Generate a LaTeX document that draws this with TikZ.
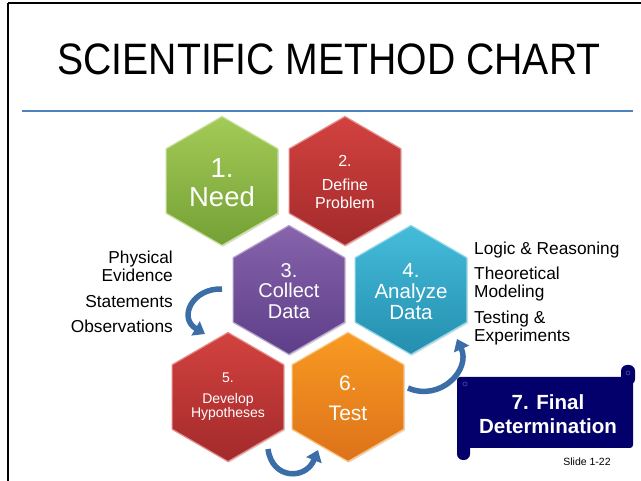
\documentclass[tikz,border=0pt]{standalone}
\usepackage{fontspec}
\setmainfont{Liberation Sans}
\usetikzlibrary{shapes.geometric,arrows.meta,shadows}
\definecolor{gA}{HTML}{A3CB57}\definecolor{gB}{HTML}{74A035}
\definecolor{rA}{HTML}{D2423F}\definecolor{rB}{HTML}{A32A2B}
\definecolor{pA}{HTML}{8764AC}\definecolor{pB}{HTML}{5D3E88}
\definecolor{cA}{HTML}{45BCDB}\definecolor{cB}{HTML}{248EAE}
\definecolor{oA}{HTML}{F89A22}\definecolor{oB}{HTML}{DD721A}
\definecolor{arrowblue}{HTML}{3B6DA7}
\definecolor{rule}{HTML}{4F81BD}
\definecolor{navy}{HTML}{03006C}
\begin{document}
\begin{tikzpicture}[x=1pt,y=-1pt,
  hexa/.style={regular polygon, regular polygon sides=6, shape border rotate=30,
    minimum size=129pt, inner sep=0pt, outer sep=0pt, line width=1.2pt,
    drop shadow={opacity=0.25, shadow xshift=1.2pt, shadow yshift=-1.2pt}},
  hexlabel/.style={text=white, align=center, inner sep=0pt},
  sidelabel/.style={font=\fontsize{17.3}{18}\selectfont, inner sep=0pt},
  bluearrow/.style={draw=arrowblue, line width=5.5pt,
    -{Triangle[width=16pt,length=11pt]}},
  scrolltext/.style={text=white, font=\bfseries\fontsize{20.5}{24}\selectfont, align=center, inner sep=0pt}]
\useasboundingbox (0,0) rectangle (641,481);
\fill[white] (0,0) rectangle (641,481);
% frame
\draw[line width=2pt] (8,3.5) -- (641,3.5);
\draw[line width=2.2pt] (8,3.5) -- (8,481);
% title
\node[inner sep=0pt, anchor=base] (title) at (329,75)
  {\scalebox{0.89}[1]{\fontsize{44}{44}\selectfont SCIENTIFIC METHOD CHART}};
\draw[rule, line width=1.8pt] (22,111) -- (633,111);
% hexagons
\node[hexa, top color=gA, bottom color=gB, draw=gA!60!white] (h1) at (222,181) {};
\node[hexa, top color=rA, bottom color=rB, draw=rA!60!white] (h2) at (345,181) {};
\node[hexa, top color=pA, bottom color=pB, draw=pA!60!white] (h3) at (289,290) {};
\node[hexa, top color=cA, bottom color=cB, draw=cA!60!white] (h4) at (411,290) {};
\node[hexa, top color=rA, bottom color=rB, draw=rA!60!white] (h5) at (228,397) {};
\node[hexa, top color=oA, bottom color=oB, draw=oA!60!white] (h6) at (348,397) {};
% hex labels
\node[hexlabel, font=\fontsize{27.5}{29}\selectfont] (t1) at (222,183) {1.\\Need};
\node[hexlabel, font=\fontsize{16}{18.5}\selectfont] (t2) at (345,182) {2.\\[5pt]Define\\Problem};
\node[hexlabel, font=\fontsize{20}{20.5}\selectfont] (t3) at (289,291) {3.\\Collect\\Data};
\node[hexlabel, font=\fontsize{20.5}{21}\selectfont] (t4) at (411,292) {4.\\Analyze\\Data};
\node[hexlabel, font=\fontsize{14}{14.5}\selectfont] (t5) at (228,397) {5.\\[6pt]Develop\\Hypotheses};
\node[hexlabel, font=\fontsize{21}{30}\selectfont] (t6) at (348,398) {6.\\Test};
% side labels (base anchor = last line)
\node[sidelabel, anchor=base east, align=right] (l1) at (173,282) {Physical\\Evidence};
\node[sidelabel, anchor=base east] (l2) at (173,308) {Statements};
\node[sidelabel, anchor=base east] (l3) at (173,333) {Observations};
\node[sidelabel, anchor=base west] (r1) at (474,255) {Logic \& Reasoning};
\node[sidelabel, anchor=base west, align=left] (r2) at (474,298) {Theoretical\\Modeling};
\node[sidelabel, anchor=base west, align=left] (r3) at (474,342) {Testing \&\\Experiments};
% curved arrows
\coordinate (a1s) at (222,289); \coordinate (a1e) at (205,334);
\draw[bluearrow] (a1s) .. controls (192,288) and (178,318) .. (a1e);
\coordinate (a2s) at (268,449); \coordinate (a2e) at (318,450);
\draw[bluearrow] (a2s) .. controls (272,480) and (306,480) .. (a2e);
\coordinate (a3s) at (408,388); \coordinate (a3e) at (457,339);
\draw[bluearrow] (a3s) .. controls (440,402) and (471,370) .. (a3e);
% scroll
\fill[navy, rounded corners=6pt] (621,365) rectangle (635,385);
\fill[navy, rounded corners=6pt] (457,440) rectangle (470,460);
\fill[navy, rounded corners=3pt] (457,377) rectangle (633,448);
\draw[navy!70!white, line width=0.6pt] (628,373) circle (2pt);
\draw[navy!70!white, line width=0.6pt] (465,384) circle (2pt);
\node[scrolltext] (fd) at (548,414) {7. Final\\Determination};
\node[inner sep=0pt, font=\fontsize{10.5}{11}\selectfont] (slide) at (587,462) {Slide 1-22};
\end{tikzpicture}
\end{document}
